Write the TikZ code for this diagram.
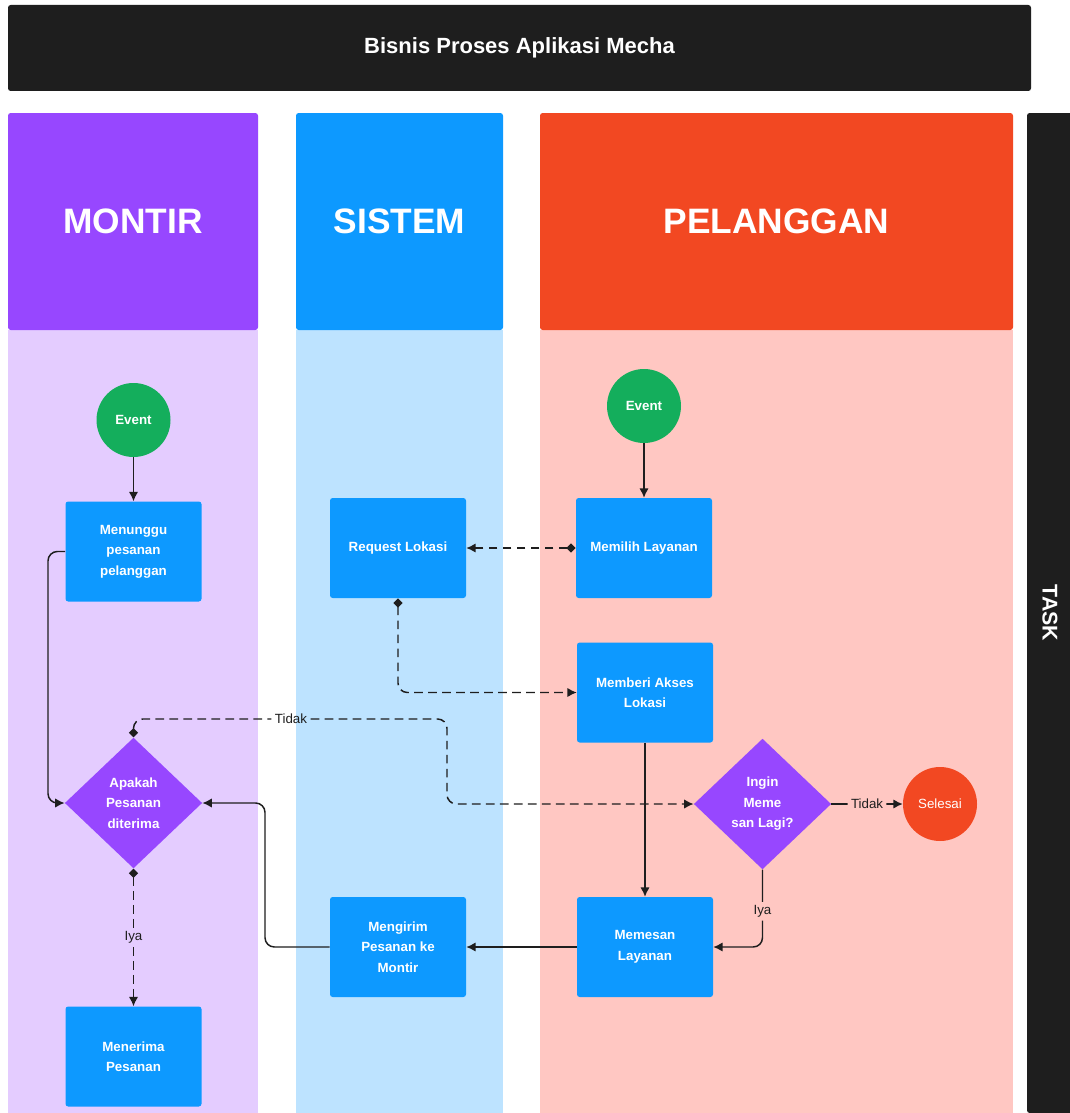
\documentclass[tikz,border=0pt]{standalone}
\usepackage{fontspec}
\setmainfont{Liberation Sans}
\usetikzlibrary{shapes.geometric,arrows.meta,positioning}

\definecolor{dark}{HTML}{1E1E1E}
\definecolor{montir}{HTML}{9747FF}
\definecolor{montirbg}{HTML}{E4CCFF}
\definecolor{sistem}{HTML}{0D99FF}
\definecolor{sistembg}{HTML}{BDE3FF}
\definecolor{pelanggan}{HTML}{F24822}
\definecolor{pelangganbg}{HTML}{FFC7C2}
\definecolor{eventgreen}{HTML}{14AE5C}

\tikzset{
  lanehead/.style={rounded corners=2pt, text=white, minimum height=162.75pt,
    font=\bfseries\fontsize{26.5}{30}\selectfont},
  task/.style={fill=sistem, rounded corners=2pt, text=white, align=center,
    minimum width=102pt, minimum height=75pt, inner sep=2pt,
    font=\bfseries\fontsize{10}{15.4}\selectfont},
  event/.style={circle, fill=eventgreen, text=white, minimum size=55.5pt, inner sep=0pt,
    font=\bfseries\fontsize{10}{12}\selectfont},
  decision/.style={diamond, fill=montir, text=white, align=center, inner sep=0pt,
    minimum width=103pt, minimum height=98pt,
    font=\bfseries\fontsize{10}{15.4}\selectfont},
  lbl/.style={text=dark, inner sep=2.5pt, font=\fontsize{10}{12}\selectfont},
  flow/.style={draw=dark, line width=1.1pt, rounded corners=7pt,
    -{Latex[length=7pt,width=7pt]}},
  dflow/.style={flow, dash pattern=on 6.5pt off 4pt},
  dstart/.style={{Diamond[length=7pt,width=7pt]}-{Latex[length=7pt,width=7pt]}}
}

\begin{document}
\begin{tikzpicture}[x=0.75pt,y=-0.75pt]
\useasboundingbox (0,0) rectangle (1070,1113);
\fill[white] (0,0) rectangle (1070,1113);

% judul
\node[fill=dark, rounded corners=2pt, text=white, minimum width=767.25pt, minimum height=64.5pt,
  font=\bfseries\fontsize{16.5}{18}\selectfont] (title) at (519.5,48) {Bisnis Proses Aplikasi Mecha};

% swimlane
\fill[montirbg] (8,330) rectangle (258,1113);
\fill[sistembg] (296,330) rectangle (503,1113);
\fill[pelangganbg] (540,330) rectangle (1013,1113);
\node[lanehead, fill=montir, minimum width=187.5pt] (hmontir) at (133,221.5) {MONTIR};
\node[lanehead, fill=sistem, minimum width=155.25pt] (hsistem) at (399.5,221.5) {SISTEM};
\node[lanehead, fill=pelanggan, minimum width=354.75pt] (hpelanggan) at (776.5,221.5) {PELANGGAN};
\fill[dark, rounded corners=2pt] (1027,113) rectangle (1080,1113);
\node[text=white, rotate=-90, font=\bfseries\fontsize{16}{18}\selectfont] (tasklbl) at (1050,613) {TASK};

% montir
\node[event] (eventM) at (133.5,420) {Event};
\node[task] (menunggu) at (133.5,551.5) {Menunggu\\pesanan\\pelanggan};
\node[decision] (apakah) at (133.5,803) {Apakah\\Pesanan\\diterima};
\node[task] (menerima) at (133.5,1056.5) {Menerima\\Pesanan};

% sistem
\node[task] (request) at (398,548) {Request Lokasi};
\node[task] (mengirim) at (398,947) {Mengirim\\Pesanan ke\\Montir};

% pelanggan
\node[event] (eventP) at (644,406) {Event};
\node[task] (memilih) at (644,548) {Memilih Layanan};
\node[task] (memberi) at (645,692.5) {Memberi Akses\\Lokasi};
\node[decision] (ingin) at (762.5,804) {Ingin\\Meme\\san Lagi?};
\node[circle, fill=pelanggan, text=white, minimum size=55.5pt, inner sep=0pt,
  font=\fontsize{10}{12}\selectfont] (selesai) at (940,804) {Selesai};
\node[task] (memesan) at (645,947) {Memesan\\Layanan};

\coordinate (kiri) at (48,700);
\coordinate (belok) at (447,760);
\coordinate (balik) at (265,880);
\node[lbl] (tidak1) at (291,719) {Tidak};

% alur
\draw[flow] (eventM) -- (menunggu);
\draw[flow] (menunggu.west) -| (kiri) |- (apakah.west);
\draw[dflow, dstart] (apakah.south) -- node[lbl, fill=montirbg] {Iya} (menerima);
\draw[dflow, {Diamond[length=7pt,width=7pt]}-] (apakah.north) |- (tidak1.west);
\draw[dflow] (tidak1.east) -| (belok) |- (ingin.west);
\draw[flow] (eventP) -- (memilih);
\draw[dflow, dstart] (memilih.west) -- (request.east);
\draw[dflow, dstart] (request.south) |- (memberi.west);
\draw[flow] (memberi) -- (memesan);
\draw[flow] (memesan) -- (mengirim);
\draw[flow] (mengirim.west) -| (balik) |- (apakah.east);
\draw[flow] (ingin.south) |- node[pos=0.27, lbl, fill=pelangganbg] {Iya} (memesan.east);
\draw[flow] (ingin.east) -- node[lbl, fill=pelangganbg] {Tidak} (selesai);
\end{tikzpicture}
\end{document}
